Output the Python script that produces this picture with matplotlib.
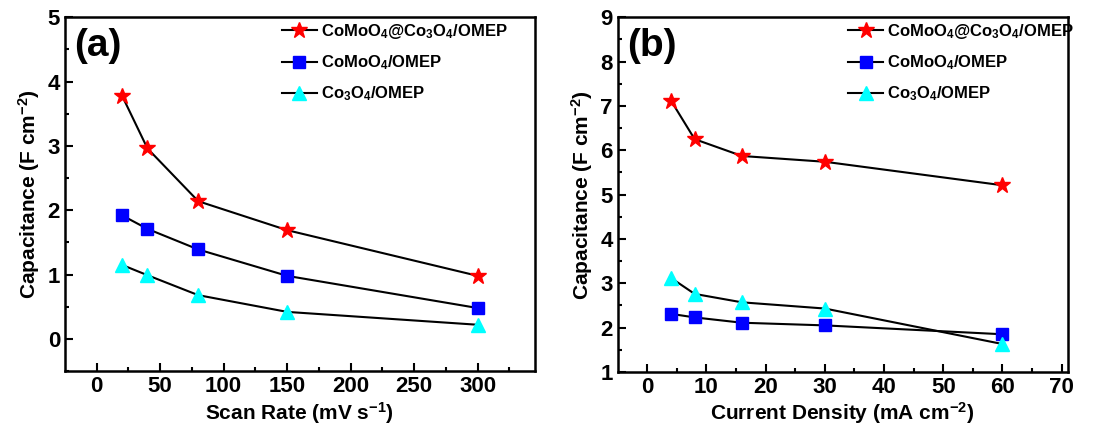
import numpy as np
import matplotlib
matplotlib.use('Agg')
import matplotlib.pyplot as plt

plt.rcParams['font.family'] = ['Liberation Sans', 'DejaVu Sans']
plt.rcParams['font.weight'] = 'bold'
plt.rcParams['mathtext.fontset'] = 'custom'
plt.rcParams['mathtext.rm'] = 'Liberation Sans:bold'
plt.rcParams['mathtext.it'] = 'Liberation Sans:bold'
plt.rcParams['mathtext.bf'] = 'Liberation Sans:bold'

# data
scan_rate = [20, 40, 80, 150, 300]
cap_a_hybrid = [3.78, 2.96, 2.14, 1.69, 0.98]
cap_a_comoo4 = [1.92, 1.71, 1.39, 0.98, 0.48]
cap_a_co3o4 = [1.15, 0.99, 0.68, 0.42, 0.22]

cur_density = [4, 8, 16, 30, 60]
cap_b_hybrid = [7.12, 6.25, 5.87, 5.74, 5.21]
cap_b_comoo4 = [2.31, 2.23, 2.11, 2.05, 1.85]
cap_b_co3o4 = [3.12, 2.76, 2.57, 2.43, 1.63]

labels = ['CoMoO$_4$@Co$_3$O$_4$/OMEP', 'CoMoO$_4$/OMEP', 'Co$_3$O$_4$/OMEP']
styles = [('*', 'red', 12), ('s', 'blue', 8), ('^', 'cyan', 10)]

fig = plt.figure(figsize=(11.19, 4.30), dpi=100)
ax1 = fig.add_axes([0.058, 0.137, 0.420, 0.823])
ax2 = fig.add_axes([0.552, 0.135, 0.402, 0.825])

def panel(ax, x, ys, xlim, ylim, xmaj, xmin, xlabel, tag, leg_x):
    for y, lab, (m, c, ms) in zip(ys, labels, styles):
        ax.plot(x, y, color='black', lw=1.5, marker=m, ms=ms,
                mfc=c, mec=c, label=lab)
    ax.set_xlim(*xlim)
    ax.set_ylim(*ylim)
    ax.set_xticks(np.arange(0, xlim[1], xmaj))
    ax.set_xticks(np.arange(0, xlim[1], xmin), minor=True)
    ax.set_yticks(np.arange(ylim[0], ylim[1] + 0.01, 1))
    ax.set_yticks(np.arange(ylim[0], ylim[1] + 0.01, 0.5), minor=True)
    ax.tick_params(which='both', direction='in', top=False, right=False,
                   labelsize=16, width=1.5)
    ax.tick_params(which='major', length=6)
    ax.tick_params(which='minor', length=3)
    for s in ax.spines.values():
        s.set_linewidth(1.8)
    ax.set_xlabel(xlabel, fontsize=15, fontweight='bold', labelpad=2)
    ax.set_ylabel('Capacitance (F cm$^{-2}$)', fontsize=15, fontweight='bold', labelpad=4)
    ax.text(0.02, 0.97, tag, transform=ax.transAxes, fontsize=28,
            fontweight='bold', va='top', ha='left')
    ax.legend(loc='upper left', bbox_to_anchor=(leg_x, 1.015), frameon=False,
              fontsize=12, handlelength=2.1, handletextpad=0.25,
              labelspacing=0.75, borderaxespad=0.2)

panel(ax1, scan_rate, [cap_a_hybrid, cap_a_comoo4, cap_a_co3o4],
      (-25, 345), (-0.5, 5), 50, 25, 'Scan Rate (mV s$^{-1}$)', '(a)', 0.44)
ax1.set_yticks(np.arange(0, 5.01, 1))
panel(ax2, cur_density, [cap_b_hybrid, cap_b_comoo4, cap_b_co3o4],
      (-5, 71), (1, 9), 10, 5, 'Current Density (mA cm$^{-2}$)', '(b)', 0.49)

fig.savefig('out.png', dpi=100)
